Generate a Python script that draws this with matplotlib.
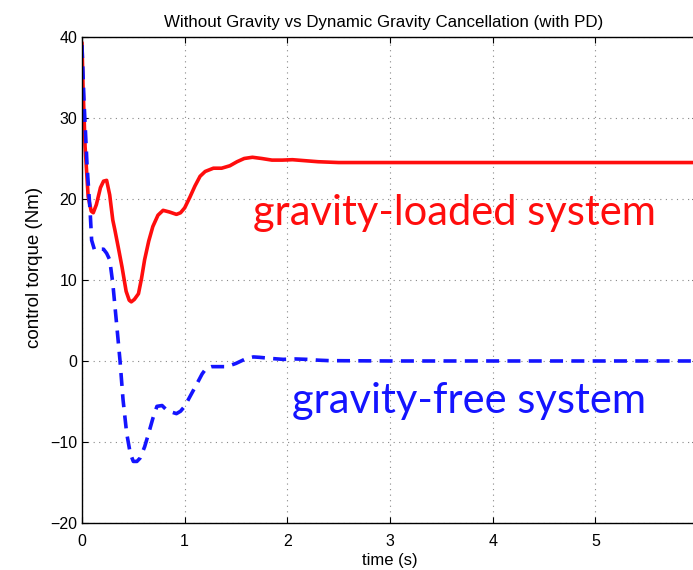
import matplotlib
matplotlib.use('Agg')
import matplotlib.pyplot as plt
import numpy as np

# gravity-loaded system (solid red)
t_loaded = [0.00, 0.01, 0.03, 0.06, 0.09, 0.11, 0.14, 0.18, 0.21, 0.24, 0.27, 0.30,
            0.32, 0.36, 0.39, 0.43, 0.46, 0.48, 0.51, 0.55, 0.58, 0.61, 0.65, 0.69,
            0.74, 0.79, 0.85, 0.92, 0.96, 1.00, 1.05, 1.10, 1.15, 1.20, 1.28, 1.36,
            1.44, 1.51, 1.58, 1.66, 1.75, 1.85, 1.95, 2.05, 2.15, 2.30, 2.50, 3.00,
            4.00, 5.00, 6.00]
u_loaded = [39.3, 34.0, 26.5, 20.3, 18.5, 18.3, 19.3, 21.4, 22.2, 22.3, 20.5, 17.4,
            16.2, 13.6, 11.6, 8.6, 7.5, 7.3, 7.6, 8.3, 10.2, 12.5, 14.8, 16.6,
            18.0, 18.6, 18.4, 18.1, 18.3, 18.9, 20.2, 21.6, 22.8, 23.4, 23.8, 23.8,
            24.1, 24.6, 25.0, 25.15, 25.0, 24.8, 24.8, 24.85, 24.75, 24.6, 24.5, 24.5,
            24.5, 24.5, 24.5]

# gravity-free system (dashed blue)
t_free = [0.00, 0.02, 0.05, 0.08, 0.094, 0.12, 0.15, 0.18, 0.21, 0.24, 0.27, 0.30,
          0.34, 0.37, 0.40, 0.435, 0.47, 0.50, 0.535, 0.565, 0.61, 0.65, 0.69, 0.73,
          0.78, 0.82, 0.87, 0.92, 0.96, 1.00, 1.06, 1.12, 1.17, 1.21, 1.26, 1.33,
          1.41, 1.50, 1.60, 1.67, 1.73, 1.85, 1.96, 2.08, 2.19, 2.30, 2.41, 3.00,
          4.00, 5.00, 6.00]
u_free = [39.0, 32.0, 24.0, 18.3, 14.9, 13.8, 13.6, 13.8, 13.8, 13.3, 12.5, 9.6,
          4.2, 0.1, -4.8, -8.9, -11.4, -12.4, -12.4, -12.0, -10.6, -8.9, -7.1, -5.6,
          -5.5, -6.0, -6.3, -6.5, -6.2, -5.6, -4.2, -2.8, -1.6, -0.9, -0.7, -0.7,
          -0.7, -0.3, 0.3, 0.5, 0.45, 0.3, 0.2, 0.25, 0.2, 0.1, 0.04, 0.0,
          0.0, 0.0, 0.0]

x_ticks = [0, 1, 2, 3, 4, 5]
y_ticks = [-20, -10, 0, 10, 20, 30, 40]

plt.rcParams['font.family'] = ['Liberation Sans', 'DejaVu Sans']

red = '#ff0d0d'
blue = '#1414ff'

fig = plt.figure(figsize=(6.93, 5.70), dpi=100)
ax = fig.add_axes([0.1183, 0.0825, 0.889, 0.8526])

ax.plot(t_loaded, u_loaded, color=red, linewidth=2.6, solid_capstyle='round')
ax.plot(t_free, u_free, color=blue, linewidth=2.6, linestyle=(0, (3.6, 2.3)))

ax.set_xlim(0, 6)
ax.set_ylim(-20, 40)
ax.set_xticks(x_ticks)
ax.set_yticks(y_ticks)
ax.tick_params(direction='in', top=True, right=True, length=4, labelsize=11.5)
ax.tick_params(axis='x', pad=8)
ax.grid(True, linestyle=(0, (1, 4)), color='#888888', linewidth=0.8)
for s in ax.spines.values():
    s.set_linewidth(1.0)

ax.set_title('Without Gravity vs Dynamic Gravity Cancellation (with PD)', fontsize=12.2, pad=7, x=0.489)
ax.set_xlabel('time (s)', fontsize=12, labelpad=3)
ax.set_ylabel('control torque (Nm)', fontsize=13.5)
ax.yaxis.set_label_coords(-0.063, 0.525)

ax.text(1.665, 16.8, 'gravity-loaded system', color=red, fontsize=30,
        family='Lato', ha='left', va='baseline')
ax.text(2.05, -6.4, 'gravity-free system', color=blue, fontsize=30,
        family='Lato', ha='left', va='baseline')

fig.savefig('out.png', dpi=100)
